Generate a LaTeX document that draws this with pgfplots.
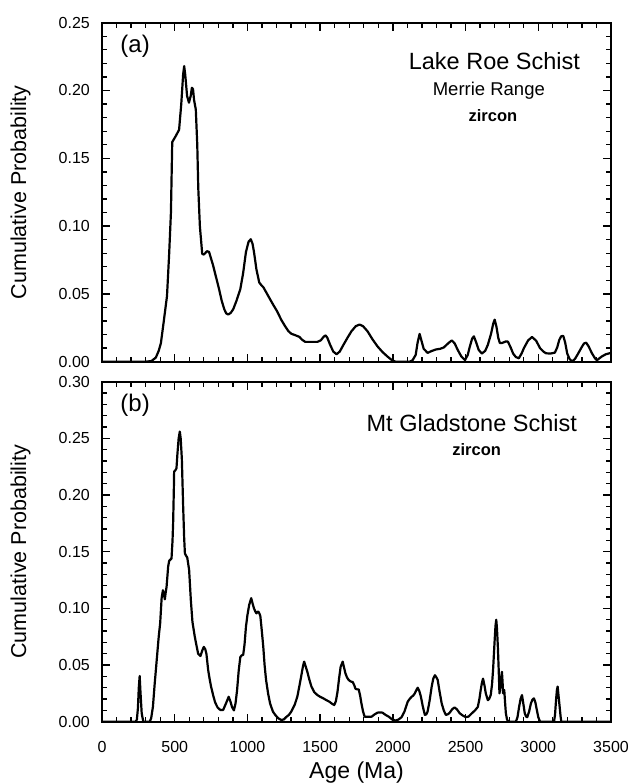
\documentclass[border=0pt]{standalone}
\usepackage{fontspec}
\setmainfont{Liberation Sans}
\usepackage{pgfplots}
\usepackage{pgfplotstable}
\pgfplotsset{compat=1.18}

\pgfplotstableread{
age p
0 0
300 0
340 0.0005
370 0.003
390 0.008
405 0.0137
425 0.03
447 0.0485
462 0.08
474 0.11
480 0.145
483 0.162
505 0.166
530 0.171
545 0.19
558 0.212
565 0.218
572 0.212
585 0.196
598 0.191
610 0.196
618 0.202
626 0.201
633 0.193
645 0.186
655 0.16
662 0.128
673 0.10
689 0.0796
700 0.079
709 0.080
722 0.0815
736 0.081
750 0.076
764 0.071
785 0.062
805 0.0535
823 0.045
841 0.0386
855 0.0355
869 0.0348
885 0.036
902 0.0386
925 0.045
951 0.0535
970 0.065
990 0.081
1008 0.0885
1023 0.0903
1035 0.087
1045 0.081
1062 0.068
1081 0.0585
1095 0.0565
1109 0.055
1130 0.051
1156 0.046
1180 0.0415
1205 0.037
1232 0.031
1260 0.026
1282 0.0225
1302 0.0206
1330 0.0195
1357 0.0183
1378 0.016
1398 0.0146
1440 0.0146
1481 0.0146
1505 0.0158
1525 0.0185
1538 0.0194
1550 0.0175
1569 0.0124
1590 0.0075
1613 0.0055
1635 0.0075
1660 0.0124
1690 0.018
1715 0.0224
1745 0.0262
1771 0.0274
1795 0.0262
1826 0.0224
1860 0.0165
1895 0.0112
1930 0.007
1964 0.0037
1995 0.001
2019 0
2115 0
2135 0.001
2157 0.005
2170 0.014
2184 0.0205
2198 0.015
2212 0.0095
2239 0.0065
2265 0.0078
2295 0.009
2325 0.0095
2350 0.0105
2380 0.0135
2405 0.0157
2425 0.0135
2446 0.0087
2470 0.004
2496 0.0012
2515 0.005
2529 0.011
2545 0.017
2557 0.0187
2572 0.0145
2590 0.0087
2612 0.006
2635 0.008
2653 0.0124
2675 0.0205
2690 0.028
2700 0.031
2712 0.026
2725 0.0175
2736 0.0137
2750 0.0138
2763 0.0143
2778 0.015
2791 0.0148
2810 0.0105
2827 0.006
2845 0.0035
2866 0.0025
2885 0.006
2901 0.01
2930 0.0157
2957 0.0182
2985 0.0155
3012 0.01
3035 0.0075
3053 0.0062
3085 0.006
3114 0.0067
3130 0.0105
3144 0.016
3158 0.0188
3172 0.019
3185 0.014
3199 0.006
3215 0.002
3232 0.0002
3252 0.002
3274 0.006
3300 0.011
3315 0.0135
3329 0.014
3345 0.0115
3370 0.006
3390 0.0025
3403 0.001
3420 0.0025
3439 0.004
3465 0.0055
3500 0.0065
}\lakeroe

\pgfplotstableread{
age p
0 0
232 0
240 0.002
247 0.012
253 0.03
259 0.0403
265 0.025
273 0.0074
284 0
328 0
338 0.003
350 0.013
362 0.033
378 0.057
390 0.075
400 0.087
410 0.109
419 0.116
426 0.112
432 0.108
438 0.114
444 0.119
455 0.137
462 0.142
478 0.144
485 0.16
489 0.175
494 0.205
496 0.2206
505 0.222
512 0.2235
519 0.237
527 0.25
535 0.256
541 0.25
549 0.232
558 0.19
565 0.162
570 0.1485
580 0.146
586 0.145
599 0.134
611 0.107
622 0.088
638 0.075
650 0.067
661 0.060
677 0.058
690 0.063
700 0.066
710 0.064
718 0.060
730 0.0456
741 0.037
750 0.031
765 0.023
778 0.017
795 0.0125
814 0.0103
833 0.0103
852 0.016
871 0.022
884 0.0175
894 0.013
907 0.010
918 0.016
929 0.028
940 0.045
951 0.057
960 0.0585
971 0.059
980 0.068
990 0.084
1000 0.094
1012 0.103
1026 0.109
1036 0.104
1045 0.100
1055 0.097
1062 0.0956
1070 0.097
1076 0.097
1084 0.095
1089 0.093
1099 0.08
1109 0.066
1118 0.05
1128 0.037
1142 0.025
1156 0.016
1175 0.009
1191 0.006
1212 0.003
1233 0.0015
1250 0.002
1266 0.004
1285 0.006
1302 0.009
1325 0.015
1343 0.022
1358 0.032
1371 0.041
1382 0.049
1390 0.053
1400 0.049
1412 0.044
1426 0.037
1440 0.031
1460 0.026
1481 0.0235
1500 0.022
1522 0.0206
1543 0.019
1564 0.0176
1580 0.016
1597 0.0147
1608 0.018
1619 0.026
1630 0.038
1641 0.0485
1655 0.053
1664 0.048
1674 0.0426
1685 0.039
1696 0.0368
1710 0.0355
1724 0.035
1735 0.032
1743 0.029
1755 0.0285
1765 0.0285
1775 0.023
1784 0.016
1795 0.009
1806 0.0044
1830 0.0044
1853 0.0044
1875 0.0065
1895 0.008
1912 0.0082
1928 0.008
1950 0.006
1972 0.0044
1995 0.002
2019 0.001
2040 0.002
2060 0.004
2080 0.009
2102 0.0176
2115 0.020
2129 0.022
2140 0.023
2151 0.025
2162 0.028
2171 0.030
2182 0.027
2193 0.022
2205 0.014
2220 0.006
2230 0.0065
2239 0.009
2252 0.018
2267 0.031
2278 0.038
2289 0.041
2300 0.039
2308 0.037
2322 0.026
2336 0.016
2350 0.010
2364 0.006
2378 0.0065
2391 0.008
2408 0.011
2424 0.0126
2440 0.011
2460 0.0074
2480 0.0055
2502 0.004
2520 0.0045
2543 0.0074
2565 0.010
2584 0.013
2595 0.02
2604 0.028
2612 0.034
2620 0.038
2630 0.032
2639 0.025
2653 0.019
2662 0.02
2673 0.0235
2682 0.033
2689 0.0456
2695 0.06
2700 0.072
2706 0.085
2711 0.090
2716 0.082
2722 0.066
2728 0.045
2733 0.025
2737 0.028
2741 0.034
2746 0.040
2750 0.044
2754 0.036
2758 0.025
2762 0.027
2766 0.028
2771 0.018
2777 0.0074
2785 0.002
2794 0
2846 0
2857 0.004
2868 0.013
2878 0.02
2888 0.0235
2897 0.016
2907 0.0074
2916 0.0045
2924 0.004
2937 0.009
2949 0.016
2960 0.0195
2970 0.0206
2980 0.017
2990 0.0103
3000 0.004
3012 0
3108 0
3115 0.006
3122 0.019
3128 0.028
3133 0.031
3140 0.022
3147 0.013
3153 0.005
3158 0
3500 0
}\gladstone

\pgfplotsset{
  panel/.style={
    scale only axis,
    width=509pt,
    xmin=0, xmax=3500,
    xtick={0,500,1000,1500,2000,2500,3000,3500},
    minor x tick num=4,
    minor y tick num=4,
    tick align=inside,
    tick pos=both,
    major tick length=8pt,
    minor tick length=5pt,
    every tick/.style={black, line width=1.3pt},
    axis line style={line width=1.8pt},
    /pgf/number format/assume math mode=true,
    /pgf/number format/1000 sep={},
    tick label style={font=\fontsize{16}{19}\selectfont, inner sep=0pt},
    yticklabel style={/pgf/number format/.cd, fixed, fixed zerofill, precision=2, /tikz/.cd, anchor=east, xshift=-12pt},
    xticklabel style={anchor=base, yshift=-31pt},
    ylabel={Cumulative Probability},
    ylabel style={font=\fontsize{21.5}{24}\selectfont, at={(axis description cs:-0.16,0.5)}, anchor=center, rotate=0},
    curve/.style={black, line width=2.2pt, line join=round, mark=none},
  }
}

\begin{document}
\begin{tikzpicture}
\path[use as bounding box] (-102pt,-61.3pt) rectangle (527pt,721.7pt);

\begin{axis}[panel, at={(0pt,360pt)}, anchor=south west, height=339pt,
  ymin=0, ymax=0.25, ytick={0,0.05,0.10,0.15,0.20,0.25}, xticklabels={}]
  \addplot[curve] table[x=age, y=p] {\lakeroe};
  \node[anchor=base west, font=\fontsize{24}{28}\selectfont] at (axis description cs:0.0293,0.9106) {(a)};
  \node[anchor=base east, font=\fontsize{23.5}{28}\selectfont] at (axis description cs:0.946,0.863) {Lake Roe Schist};
  \node[anchor=base, font=\fontsize{18.5}{22}\selectfont] at (axis description cs:0.76,0.7838) {Merrie Range};
  \node[anchor=base, font=\fontsize{16.5}{20}\selectfont\bfseries] at (axis description cs:0.768,0.708) {zircon};
\end{axis}

\begin{axis}[panel, at={(0pt,0pt)}, anchor=south west, height=340pt,
  ymin=0, ymax=0.30, ytick={0,0.05,0.10,0.15,0.20,0.25,0.30},
  xlabel={Age (Ma)},
  xlabel style={font=\fontsize{23}{27}\selectfont, at={(axis description cs:0.5,-0.1685)}, anchor=base}]
  \addplot[curve] table[x=age, y=p] {\gladstone};
  \node[anchor=base west, font=\fontsize{24}{28}\selectfont] at (axis description cs:0.0293,0.911) {(b)};
  \node[anchor=base east, font=\fontsize{23.5}{28}\selectfont] at (axis description cs:0.94,0.854) {Mt Gladstone Schist};
  \node[anchor=base, font=\fontsize{16.5}{20}\selectfont\bfseries] at (axis description cs:0.736,0.784) {zircon};
\end{axis}
\end{tikzpicture}
\end{document}
